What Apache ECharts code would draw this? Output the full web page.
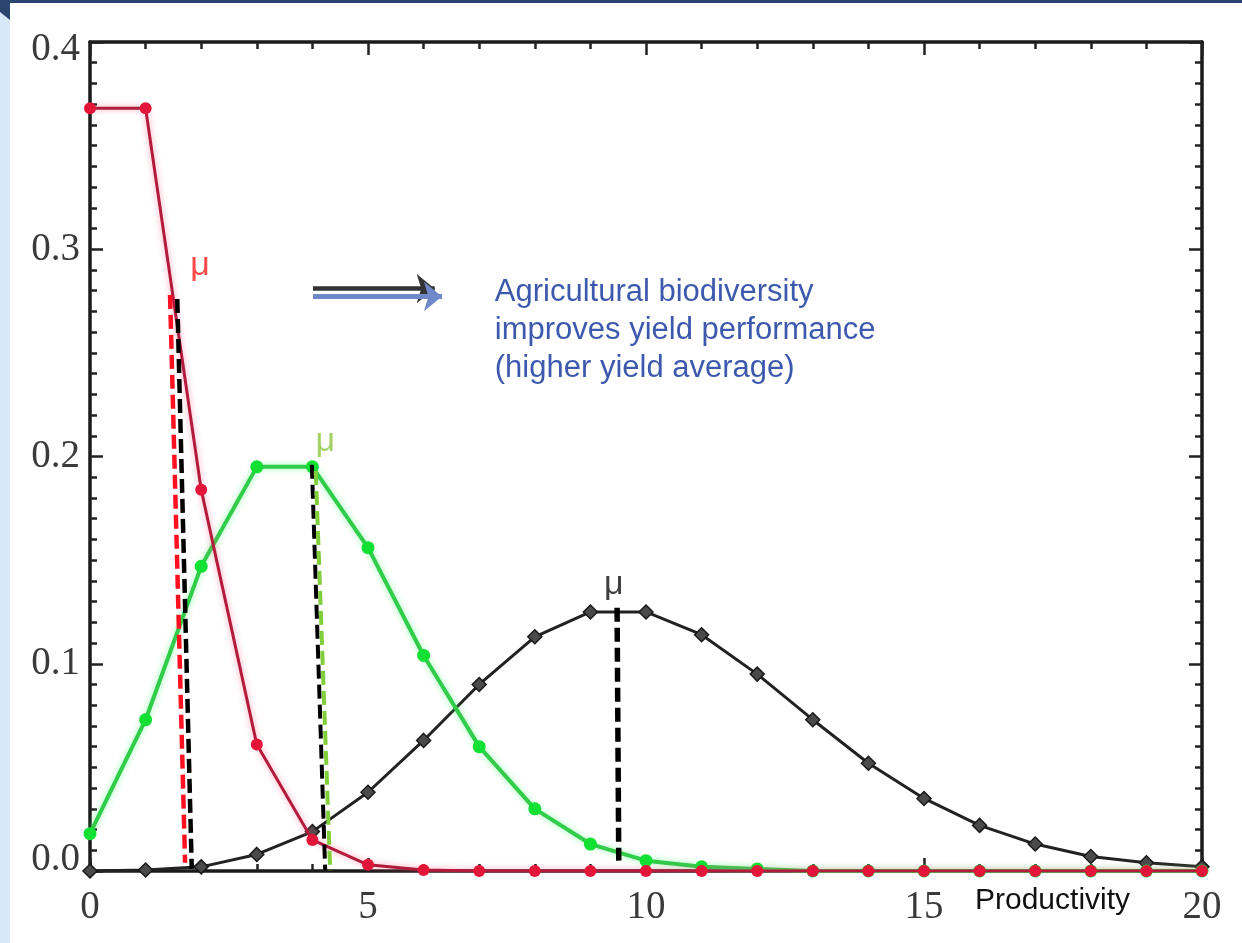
<!DOCTYPE html>
<html>
<head>
<meta charset="utf-8">
<script src="https://cdn.jsdelivr.net/npm/echarts@6/dist/echarts.min.js"></script>
<style>
html,body{margin:0;padding:0;background:#fff;}
#wrap{position:relative;width:1242px;height:943px;overflow:hidden;background:#fff;}
#leftbar{position:absolute;left:0;top:0;width:10px;height:943px;background:#d6e8f9;}
#topbar{position:absolute;left:0;top:0;width:1242px;height:3px;background:#2b4570;}
#corner{position:absolute;left:0;top:0;width:10px;height:20px;background:#2b4570;clip-path:polygon(0 0,100% 0,100% 100%,0 60%);}
#chart{position:absolute;left:0;top:0;width:1242px;height:943px;}
</style>
</head>
<body>
<div id="wrap">
  <div id="leftbar"></div>
  <div id="topbar"></div>
  <div id="corner"></div>
  <div id="chart"></div>
</div>
<script>
// ---- data ----
const productivity = [0,1,2,3,4,5,6,7,8,9,10,11,12,13,14,15,16,17,18,19,20];
const lowDiversity  = [0.368,0.368,0.184,0.061,0.015,0.003,0.0005,0,0,0,0,0,0,0,0,0,0,0,0,0,0];
const midDiversity  = [0.018,0.073,0.147,0.195,0.195,0.156,0.104,0.060,0.030,0.013,0.005,0.002,0.001,0,0,0,0,0,0,0,0];
const highDiversity = [0.0000,0.0005,0.002,0.008,0.019,0.038,0.063,0.090,0.113,0.125,0.125,0.114,0.095,0.073,0.052,0.035,0.022,0.013,0.007,0.004,0.002];

// mean (mu) markers, in data units [x, y]
const lowMeanRed    = [[1.44,0.278],[1.71,0.004]];
const lowMeanBlack  = [[1.57,0.276],[1.83,0.001]];
const midMeanBlack  = [[3.99,0.196],[4.23,0.0005]];
const midMeanGreen  = [[4.06,0.193],[4.32,0.0]];
const highMeanBlack = [[9.48,0.127],[9.51,0.005]];
const muLow  = [1.98,0.292];
const muMid  = [4.23,0.207];
const muHigh = [9.42,0.138];

// annotation arrow and text, in data units
const arrowDark = [[4.01,0.2810],[6.20,0.2810]];
const arrowBlue = [[4.01,0.2772],[6.33,0.2772]];
const noteAnchor = [7.28,0.261];
const noteLines = ['Agricultural biodiversity','improves yield performance','(higher yield average)'];

const xTickLabels = ['0','5','10','15','20'];
const yTickLabels = ['0.0','0.1','0.2','0.3','0.4'];
const xAxisLabel = 'Productivity';

function zip(xs, ys){ return xs.map((x,i)=>[x, ys[i]]); }

const chart = echarts.init(document.getElementById('chart'), null, {renderer:'canvas'});

const serif = 'Liberation Serif, Times New Roman, serif';
const sans = 'Liberation Sans, Arial, sans-serif';

function baseAxisStyle(){
  return {
    axisLine:{show:true,onZero:false,lineStyle:{color:'#1a1a1a',width:3.5}},
    axisTick:{show:true,inside:true,length:13,lineStyle:{color:'#222',width:2.5}},
    splitLine:{show:false},
    minorSplitLine:{show:false}
  };
}

function dashed(data, color, width, z){
  return {type:'line', data:data, symbol:'none', z:z||5, silent:true,
    lineStyle:{color:color,width:width,type:[14,6]}};
}

function muLabel(pos, color){
  return {type:'scatter', data:[pos], symbolSize:0, clip:false, z:10, silent:true,
    label:{show:true, position:'inside', formatter:'μ', color:color, fontSize:34, fontFamily:sans}};
}

const labelStyle = {fontSize:39,fontFamily:serif,color:'#3a3a3a'};

const option = {
  animation:false,
  backgroundColor:'transparent',
  grid:{left:90,right:40,top:42,bottom:72,containLabel:false,outerBoundsMode:'none'},
  xAxis:[
    Object.assign(baseAxisStyle(),{
      type:'value',min:0,max:20,interval:5,position:'bottom',
      minorTick:{show:true,splitNumber:5,length:7,lineStyle:{color:'#222',width:2.5}},
      axisLabel:Object.assign({show:true,margin:17,
        formatter:function(v){ return xTickLabels[Math.round(v/5)]; }}, labelStyle)
    }),
    Object.assign(baseAxisStyle(),{
      type:'value',min:0,max:20,interval:5,position:'top',
      minorTick:{show:true,splitNumber:5,length:7,lineStyle:{color:'#222',width:2.5}},
      axisLabel:{show:false}
    })
  ],
  yAxis:[
    Object.assign(baseAxisStyle(),{
      type:'value',min:0,max:0.4,interval:0.1,position:'left',
      minorTick:{show:true,splitNumber:10,length:7,lineStyle:{color:'#222',width:2.5}},
      axisLabel:Object.assign({show:true,margin:10,
        formatter:function(v){
          const i = Math.round(v*10);
          const t = yTickLabels[i];
          if (i === 0) return '{lo|' + t + '}';
          if (i === 4) return '{hi|' + t + '}';
          return t;
        },
        rich:{
          lo:Object.assign({padding:[0,0,22,0]}, labelStyle),
          hi:Object.assign({padding:[16,0,0,0]}, labelStyle)
        }}, labelStyle)
    }),
    Object.assign(baseAxisStyle(),{
      type:'value',min:0,max:0.4,interval:0.1,position:'right',
      minorTick:{show:true,splitNumber:10,length:7,lineStyle:{color:'#222',width:2.5}},
      axisLabel:{show:false}
    })
  ],
  graphic:[
    {type:'text', left:975, top:886, silent:true,
     style:{text:xAxisLabel, fontSize:30, fontFamily:sans, fill:'#111'}}
  ],
  series:[
    {type:'line', name:'high', data:zip(productivity, highDiversity), z:2,
     symbol:'diamond', symbolSize:14,
     itemStyle:{color:'#4a4a4a',borderColor:'#1a1a1a',borderWidth:1.5},
     lineStyle:{color:'#222',width:3}},
    {type:'line', name:'mid', data:zip(productivity, midDiversity), z:3,
     symbol:'circle', symbolSize:13,
     itemStyle:{color:'#12e032'},
     lineStyle:{color:'#30cc4a',width:4,shadowColor:'rgba(80,255,120,0.6)',shadowBlur:6}},
    {type:'line', name:'low', data:zip(productivity, lowDiversity), z:4,
     symbol:'circle', symbolSize:12,
     itemStyle:{color:'#e3163a'},
     lineStyle:{color:'#b31b3c',width:3,shadowColor:'rgba(255,90,130,0.6)',shadowBlur:6}},
    dashed(lowMeanRed,'#ff1020',4.5,6),
    dashed(lowMeanBlack,'#000',4.5,6),
    dashed(midMeanBlack,'#000',4,6),
    dashed(midMeanGreen,'#7fcf3a',4,6),
    dashed(highMeanBlack,'#000',5.5,6),
    muLabel(muLow,'#ff1a1a'),
    muLabel(muMid,'#8cc63f'),
    muLabel(muHigh,'#111'),
    {type:'line', data:[], symbol:'none', z:7, silent:true,
     markLine:{silent:true, symbol:['none','arrow'], symbolSize:[22,18], animation:false,
       label:{show:false}, lineStyle:{color:'#333',width:4.5,type:'solid'},
       data:[[{coord:arrowDark[0]},{coord:arrowDark[1]}]]}},
    {type:'line', data:[], symbol:'none', z:8, silent:true,
     markLine:{silent:true, symbol:['none','arrow'], symbolSize:[22,18], animation:false,
       label:{show:false}, lineStyle:{color:'#6f88c8',width:5,type:'solid'},
       data:[[{coord:arrowBlue[0]},{coord:arrowBlue[1]}]]}},
    {type:'scatter', data:[noteAnchor], symbolSize:0, clip:false, z:10, silent:true,
     label:{show:true, position:'right', distance:0, align:'left', verticalAlign:'middle',
       formatter:noteLines.join('\n'), color:'#0b2f98', fontSize:31, lineHeight:38, fontFamily:sans}}
  ]
};
chart.setOption(option);
</script>
</body>
</html>
